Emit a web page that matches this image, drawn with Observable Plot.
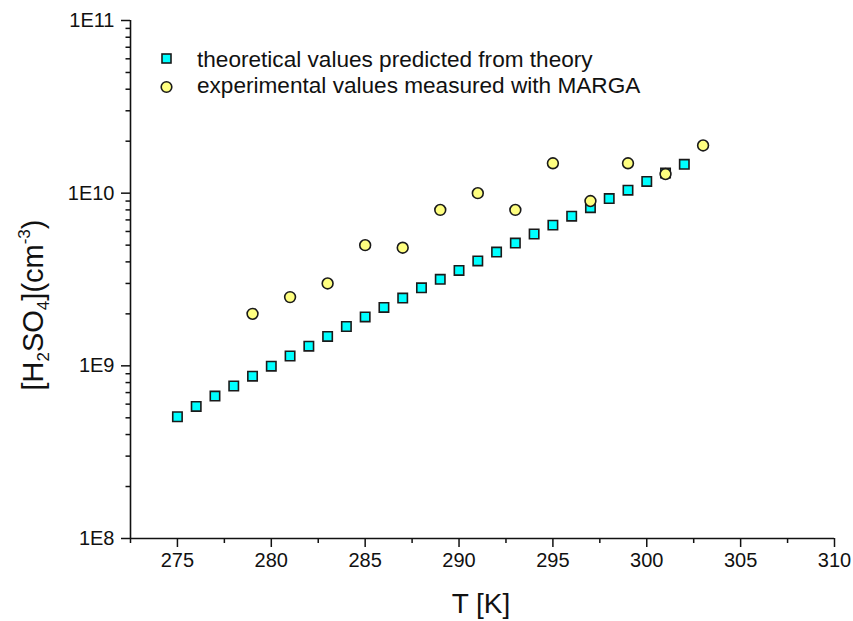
<!DOCTYPE html>
<html>
<head>
<meta charset="utf-8">
<script src="https://cdn.jsdelivr.net/npm/d3@7"></script>
<script src="https://cdn.jsdelivr.net/npm/@observablehq/plot@0.6"></script>
<style>
  html, body { margin: 0; padding: 0; background: #fff; }
  svg { display: block; }
</style>
</head>
<body>
<div id="chart"></div>
<script>
// Theoretical values (squares)
const theoT = [275,276,277,278,279,280,281,282,283,284,285,286,287,288,289,290,291,292,293,294,295,296,297,298,299,300,301,302];
const theoV = [5.07e8,5.82e8,6.68e8,7.64e8,8.71e8,9.95e8,1.14e9,1.30e9,1.48e9,1.69e9,1.92e9,2.18e9,2.47e9,2.83e9,3.17e9,3.57e9,4.05e9,4.56e9,5.14e9,5.80e9,6.53e9,7.36e9,8.24e9,9.3e9,1.04e10,1.17e10,1.31e10,1.47e10];
// Experimental values (circles)
const expT = [279,281,283,285,287,289,291,293,295,297,299,301,303];
const expV = [2.0e9,2.5e9,3.0e9,5.0e9,4.83e9,8.0e9,1.0e10,8.0e9,1.49e10,9.0e9,1.49e10,1.29e10,1.89e10];

const xMajor = [275,280,285,290,295,300,305,310];
const xMinor = [272.5,277.5,282.5,287.5,292.5,297.5,302.5,307.5];
const yMajor = [1e8,1e9,1e10,1e11];
const yMinor = [];
for (const d of [1e8,1e9,1e10]) for (let k = 2; k <= 9; k++) yMinor.push(d*k);

const legendLabels = ["theoretical values predicted from theory", "experimental values measured with MARGA"];

const theo = theoT.map((t,i) => ({T: t, v: theoV[i]}));
const exp = expT.map((t,i) => ({T: t, v: expV[i]}));

const font = "'Liberation Sans', Arial, sans-serif";

const plot = Plot.plot({
  width: 853,
  height: 621,
  marginLeft: 130,
  marginRight: 19,
  marginTop: 20,
  marginBottom: 83,
  style: {fontFamily: font, fontSize: "20px", color: "#111", background: "#fff"},
  x: {domain: [272.5, 310]},
  y: {type: "log", domain: [1e8, 1e11]},
  marks: [
    Plot.axisX({ticks: xMajor, tickSize: 9, tickPadding: 5, tickFormat: d => String(d), label: null, strokeWidth: 1.5}),
    Plot.axisX({ticks: xMinor, tickSize: 5, tickFormat: () => "", label: null, strokeWidth: 1.5}),
    Plot.axisY({ticks: yMajor, tickSize: 9, tickPadding: 7, tickFormat: d => "1E" + Math.round(Math.log10(d)), label: null, strokeWidth: 1.5}),
    Plot.axisY({ticks: yMinor, tickSize: 4.5, tickFormat: () => "", label: null, strokeWidth: 1.5}),
    Plot.ruleX([272.5], {stroke: "#111", strokeWidth: 1.6}),
    Plot.ruleY([1e8], {stroke: "#111", strokeWidth: 1.6}),
    Plot.dot(theo, {x: "T", y: "v", symbol: "square", r: 5.3, fill: "#00ffff", stroke: "#1a1a1a", strokeWidth: 1.6}),
    Plot.dot(exp, {x: "T", y: "v", symbol: "circle", r: 5.4, fill: "#ffff80", stroke: "#1a1a1a", strokeWidth: 1.6})
  ]
});

const svg = d3.select(plot);
// Force tick label font size
svg.selectAll('g[aria-label$="tick label"]').attr("font-size", 20).style("font-size", "20px");
svg.selectAll('g[aria-label$="tick label"] text').style("font-size", "20px");

// Legend
const lg = svg.append("g").attr("font-family", font).attr("font-size", 22.6).attr("fill", "#111").attr("text-anchor", "start");
lg.append("rect").attr("x", 162).attr("y", 54).attr("width", 9).attr("height", 9)
  .attr("fill", "#00ffff").attr("stroke", "#1a1a1a").attr("stroke-width", 1.6);
lg.append("circle").attr("cx", 166.5).attr("cy", 87).attr("r", 5.3)
  .attr("fill", "#ffff80").attr("stroke", "#1a1a1a").attr("stroke-width", 1.6);
lg.append("text").attr("x", 197).attr("y", 67).text(legendLabels[0]);
lg.append("text").attr("x", 197).attr("y", 93).text(legendLabels[1]);

// X axis label
svg.append("text").attr("x", 481).attr("y", 613).attr("text-anchor", "middle")
  .attr("font-family", font).attr("font-size", 28).attr("fill", "#111").text("T [K]");

// Y axis label with sub/superscripts
const yl = svg.append("text")
  .attr("transform", "translate(43,305) rotate(-90)")
  .attr("text-anchor", "middle")
  .attr("font-family", font).attr("font-size", 29).attr("fill", "#111");
yl.append("tspan").text("[H");
yl.append("tspan").attr("font-size", 17).attr("dy", 6).text("2");
yl.append("tspan").attr("dy", -6).text("SO");
yl.append("tspan").attr("font-size", 17).attr("dy", 6).text("4");
yl.append("tspan").attr("dy", -6).text("](cm");
yl.append("tspan").attr("font-size", 17).attr("dy", -13).text("-3");
yl.append("tspan").attr("dy", 13).text(")");

document.getElementById("chart").appendChild(plot);
</script>
</body>
</html>
